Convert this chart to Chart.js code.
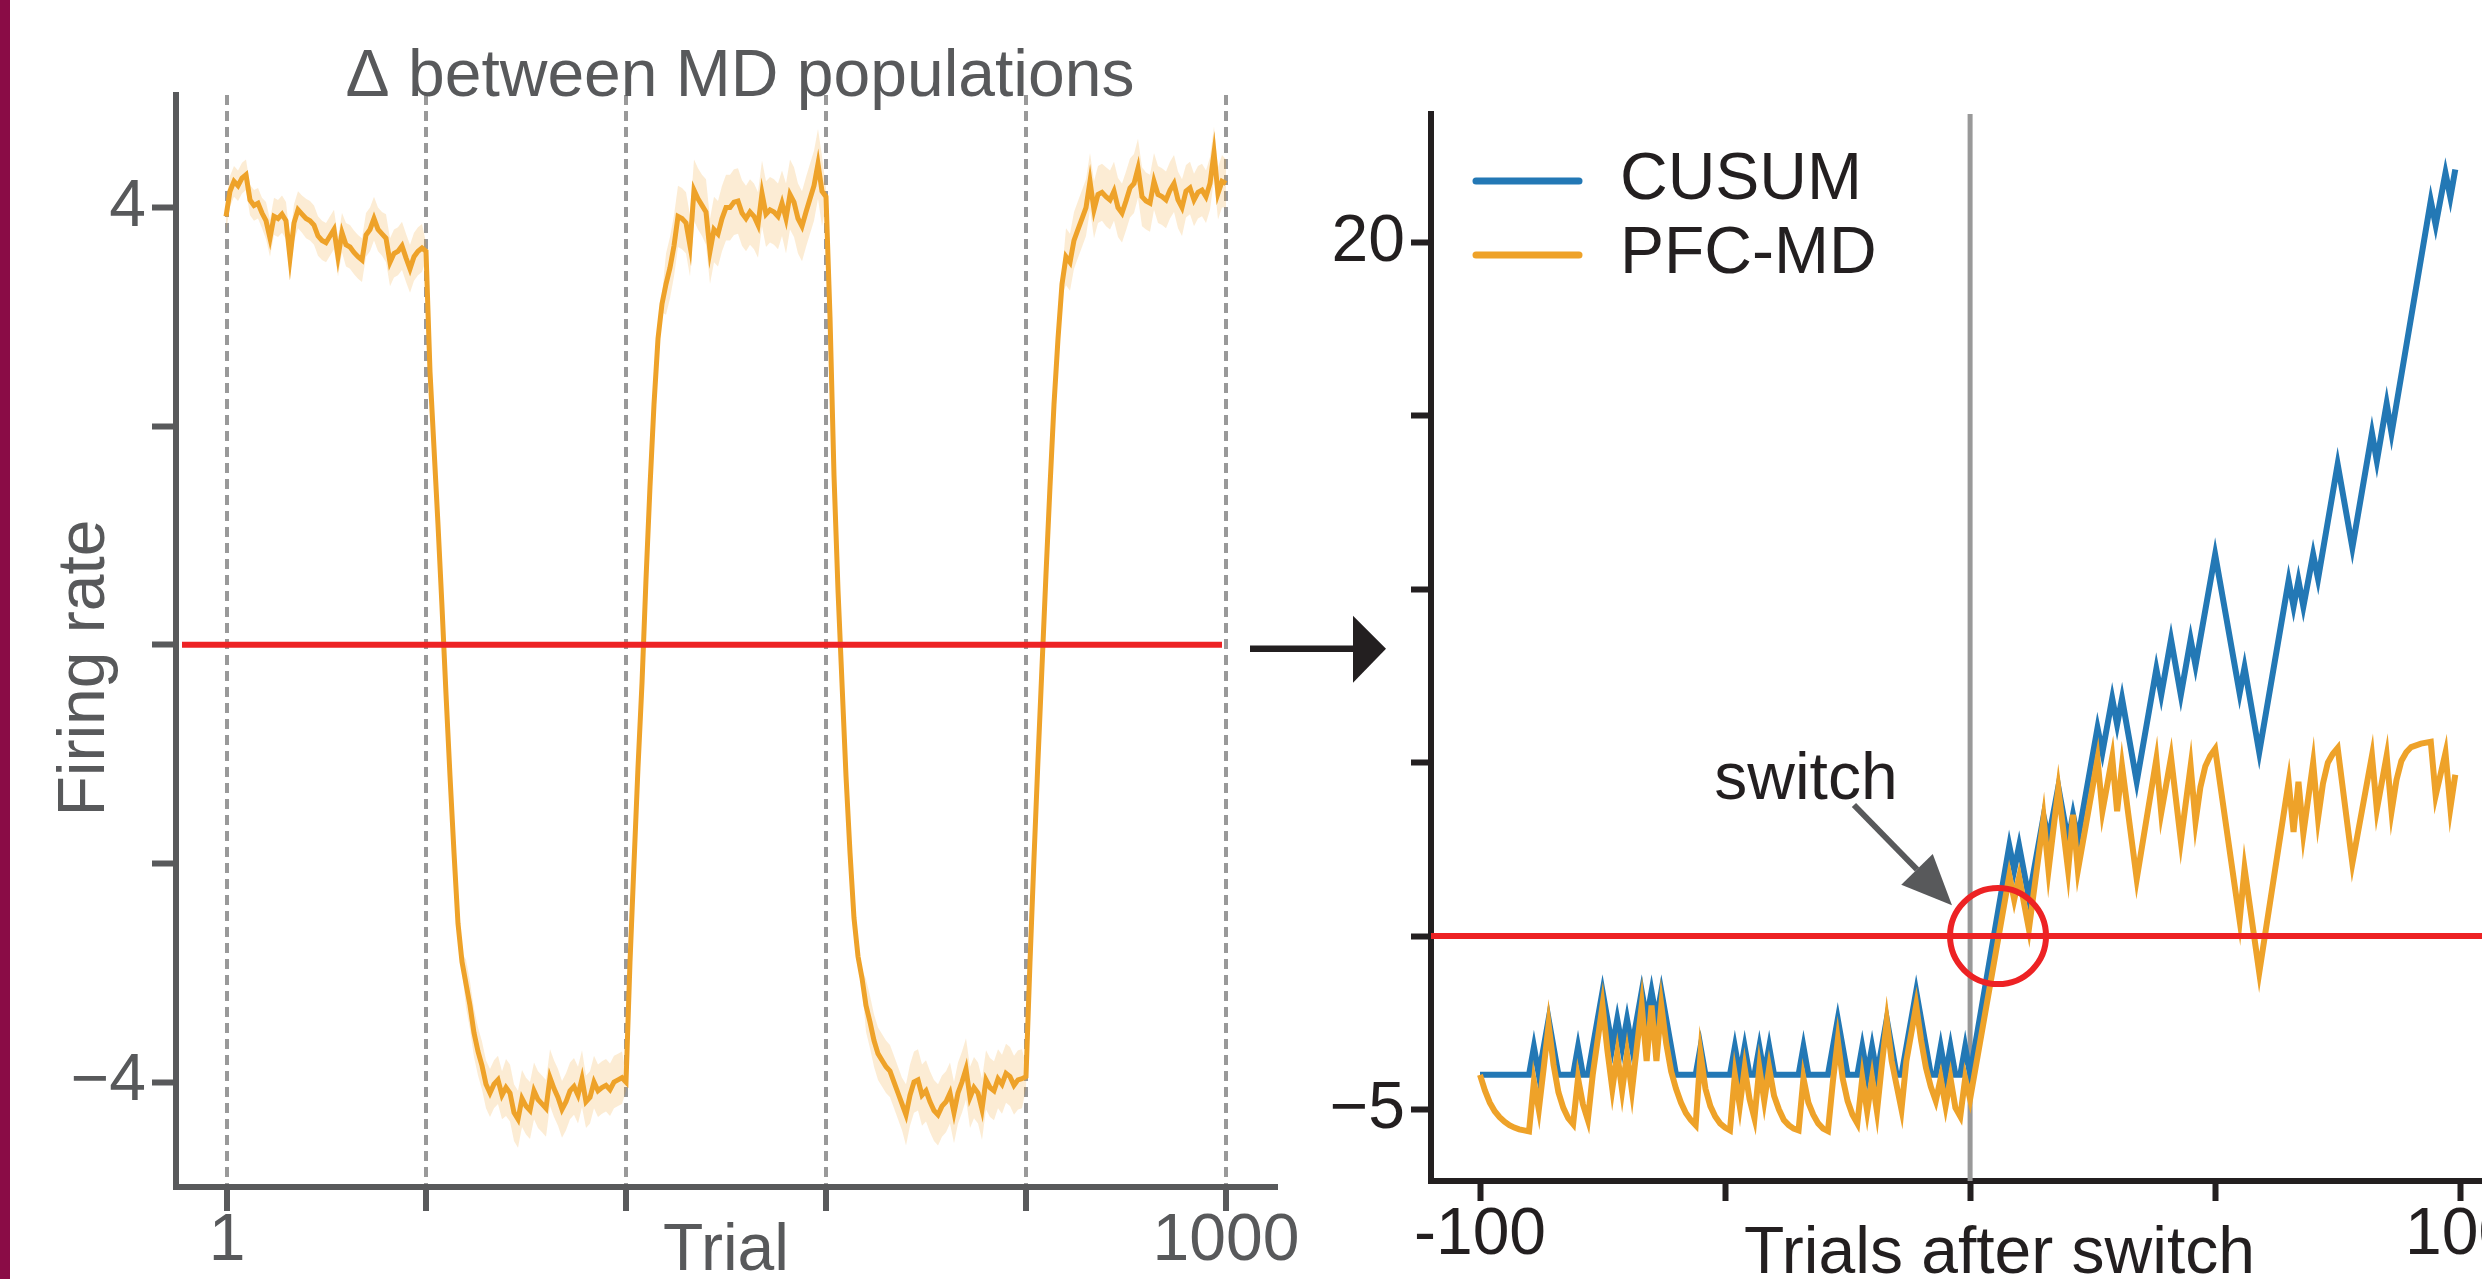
<!DOCTYPE html>
<html>
<head>
<meta charset="utf-8">
<script src="https://cdn.jsdelivr.net/npm/chart.js@4.4.1/dist/chart.umd.min.js"></script>
<style>
  html, body { margin: 0; padding: 0; background: #fff; overflow: hidden; }
  body { width: 2482px; height: 1279px; position: relative; }
  #edge { position: absolute; left: 0; top: 0; width: 10px; height: 1279px; background: #8a0c46; }
  #trialChart { position: absolute; left: 0; top: 0; }
  #switchChart { position: absolute; left: 1300px; top: 0; }
</style>
</head>
<body>
<div id="edge"></div>
<canvas id="switchChart" width="1300" height="1279"></canvas>
<canvas id="trialChart" width="1400" height="1279"></canvas>
<script>
// ---------- left panel: mean firing-rate difference, one value every 4 trials ----------
const trialStep = 4;
const meanBlockA = [3.92, 4.15, 4.24, 4.2, 4.27, 4.3, 4.07, 4.02, 4.04, 3.95,
  3.88, 3.72, 3.92, 3.9, 3.94, 3.88, 3.54, 3.86, 3.98, 3.94,
  3.9, 3.88, 3.84, 3.74, 3.7, 3.68, 3.74, 3.8, 3.55, 3.77,
  3.66, 3.64, 3.59, 3.55, 3.52, 3.75, 3.8, 3.9, 3.8, 3.76,
  3.72, 3.5, 3.58, 3.6, 3.65, 3.54, 3.44, 3.55, 3.6, 3.63];
const meanBlockB = [3.6, 2.5, 1.8, 1.1, 0.35, -0.45, -1.2, -1.9, -2.55, -2.9,
  -3.1, -3.3, -3.55, -3.72, -3.85, -4.02, -4.1, -4.02, -3.98, -4.12,
  -4.05, -4.1, -4.28, -4.34, -4.15, -4.22, -4.26, -4.08, -4.16, -4.2,
  -4.24, -3.96, -4.06, -4.14, -4.25, -4.18, -4.08, -4.04, -4.12, -3.97,
  -4.18, -4.14, -4.0, -4.08, -4.05, -4.03, -4.07, -4.0, -3.98, -3.96];
const meanBlockC = [-4.0, -2.9, -2.0, -1.12, -0.35, 0.6, 1.45, 2.2, 2.8, 3.12,
  3.3, 3.45, 3.65, 3.92, 3.9, 3.86, 3.65, 4.16, 4.08, 4.02,
  3.96, 3.6, 3.8, 3.76, 3.9, 4.0, 4.0, 4.05, 4.06, 3.95,
  3.9, 3.96, 3.92, 3.84, 4.13, 3.94, 3.98, 3.96, 3.92, 4.04,
  3.9, 4.12, 4.05, 3.9, 3.83, 3.96, 4.08, 4.2, 4.4, 4.15];
const meanBlockD = [4.1, 3.0, 1.55, 0.5, -0.35, -1.2, -1.9, -2.5, -2.85, -3.05,
  -3.3, -3.45, -3.62, -3.74, -3.8, -3.86, -3.9, -4.0, -4.1, -4.2,
  -4.3, -4.12, -4.0, -3.98, -4.12, -4.08, -4.18, -4.26, -4.3, -4.22,
  -4.18, -4.1, -4.28, -4.1, -4.0, -3.88, -4.14, -4.05, -4.1, -4.25,
  -3.98, -4.05, -4.08, -3.97, -4.02, -3.92, -3.95, -4.03, -3.98, -3.97];
const meanBlockE = [-3.95, -2.9, -1.95, -1.05, -0.2, 0.65, 1.45, 2.2, 2.8, 3.3,
  3.55, 3.5, 3.7, 3.8, 3.9, 4.0, 4.24, 3.98, 4.12, 4.14,
  4.1, 4.07, 4.15, 4.0, 3.95, 4.06, 4.18, 4.22, 4.36, 4.1,
  4.06, 4.04, 4.24, 4.12, 4.1, 4.07, 4.16, 4.22, 4.07, 4.0,
  4.15, 4.18, 4.07, 4.14, 4.16, 4.1, 4.22, 4.5, 4.13, 4.24,
  4.22];
// half width of the shaded band, one value per 40 trials
const bandHalf = [0.14, 0.17, 0.18, 0.2, 0.22, 0.08, 0.22, 0.26, 0.26, 0.24,
  0.08, 0.28, 0.3, 0.3, 0.32, 0.08, 0.24, 0.28, 0.28, 0.27,
  0.1, 0.26, 0.27, 0.26, 0.24, 0.22];
const trialTicks = [1, 200, 400, 600, 800, 1000];
const trialTickLabels = ['1', '', '', '', '', '1000'];
const rateTicks = [-4, -2, 0, 2, 4];
const rateTickLabels = ['\u22124', '', '', '', '4'];

// ---------- right panel: detection statistics around the switch ----------
const cusumTrials = [-100, -90, -89, -88, -86, -84, -81, -80, -79, -78,
  -75, -73, -72, -71, -70, -69, -67, -66, -65, -64,
  -63, -60, -56, -55, -54, -49, -48, -47, -46, -45,
  -44, -43, -42, -41, -40, -35, -34, -33, -29, -27,
  -25, -23, -22, -21, -20, -19, -17, -15, -14, -11,
  -8, -7, -6, -5, -4, -3, -2, -1, 0,
  8, 9, 10, 12, 15, 16, 18, 20, 21, 22,
  26, 27, 29, 30, 31, 34, 38, 39, 41, 43,
  45, 46, 50, 55, 56, 59, 65, 66, 67, 68,
  70, 71, 75, 78, 82, 83, 85, 86, 94, 95,
  97, 98, 99];
const cusumValues = [-4, -4, -3.2, -4, -2.4, -4, -4, -3.2, -4, -4,
  -1.6, -3.2, -2.4, -3.2, -2.4, -3.2, -1.6, -2.4, -1.6, -2.4,
  -1.6, -4, -4, -3.2, -4, -4, -3.2, -4, -3.2, -4,
  -4, -3.2, -4, -3.2, -4, -4, -3.2, -4, -4, -2.4,
  -4, -4, -3.2, -4, -3.2, -4, -2.4, -4, -4, -1.6,
  -4, -4, -3.2, -4, -3.2, -4, -4, -3.2, -4,
  2.6, 1.9, 2.6, 1.1, 3.45, 2.8, 4.3, 2.75, 3.5, 2.8,
  6.0, 5.3, 6.85, 6.1, 6.85, 4.45, 7.7, 6.95, 8.55, 6.95,
  8.55, 7.8, 11.0, 7.0, 7.75, 5.3, 10.25, 9.5, 10.25, 9.5,
  11.0, 10.3, 13.6, 11.2, 14.5, 13.7, 15.35, 14.5, 21.2, 20.5,
  22.0, 21.3, 22.1];
// PFC-MD, trials -100 .. 0, one value per trial
const pfcPreValues = [-4.0, -4.45, -4.8, -5.05, -5.22, -5.35, -5.45, -5.52, -5.57, -5.6,
  -5.63, -4.2, -5.0, -3.8, -2.55, -3.7, -4.5, -4.95, -5.25, -5.42,
  -4.1, -4.85, -5.3, -4.0, -3.0, -2.0, -3.3, -4.4, -3.4, -4.45,
  -3.4, -4.45, -3.2, -2.0, -3.6, -2.0, -3.6, -2.0, -3.1, -3.9,
  -4.4, -4.8, -5.1, -5.3, -5.45, -3.4, -4.4, -4.9, -5.2, -5.4,
  -5.52, -5.6, -4.0, -4.9, -3.8, -4.7, -5.25, -3.8, -4.75, -3.8,
  -4.6, -5.0, -5.3, -5.45, -5.55, -5.6, -4.1, -4.8, -5.15, -5.4,
  -5.55, -5.62, -4.2, -3.0, -4.1, -4.75, -5.15, -5.4, -4.1, -5.05,
  -4.1, -5.05, -3.7, -2.45, -3.6, -4.3, -5.0, -3.6, -2.8, -2.0,
  -3.0, -3.8, -4.35, -4.75, -4.1, -4.9, -4.1, -4.95, -5.2, -4.1,
  -4.7];
const pfcPostTrials = [8, 9, 10, 12, 15, 16, 18, 20, 21, 22,
  26, 27, 29, 30, 31, 34, 38, 39, 41, 43,
  45, 46, 47, 48, 49, 50, 55, 56, 59, 65,
  66, 67, 68, 70, 71, 72, 73, 74, 75, 78,
  82, 83, 85, 86, 87, 88, 89, 90, 92, 94,
  95, 97, 98, 99];
const pfcPostValues = [1.75, 1.05, 1.7, 0.2, 3.4, 1.9, 4.25, 1.9, 3.5, 1.9,
  5.1, 3.6, 5.15, 3.6, 4.9, 1.65, 5.1, 3.55, 5.15, 2.75,
  4.9, 3.3, 4.3, 4.9, 5.2, 5.4, 0.45, 1.95, -1.05, 4.45,
  3.0, 4.45, 2.95, 5.0, 3.4, 4.4, 5.0, 5.25, 5.42, 2.1,
  5.2, 3.65, 5.2, 3.6, 4.5, 5.05, 5.3, 5.45, 5.55, 5.6,
  4.05, 5.28, 3.7, 4.65];
const afterTicks = [-100, -50, 0, 50, 100];
const afterTickLabels = ['-100', '', '', '', '100'];
const scoreTicks = [-5, 0, 5, 10, 15, 20];
const scoreTickLabels = ['\u22125', '', '', '', '', '20'];
const threshold = 0;
const switchTrial = 0;
const detectTrial = 5.7;

// ---------- styling ----------
const FONT = "'Liberation Sans', Arial, Helvetica, sans-serif";
const grey = '#58595b';
const ink = '#231f20';
const orange = '#eea229';
const blue = '#2378b5';
const red = '#ed2224';
const bigFont = { family: FONT, size: 66, lineHeight: 1 };
Chart.defaults.font.family = FONT;

const meanValues = [].concat(meanBlockA, meanBlockB, meanBlockC, meanBlockD, meanBlockE);
const meanPts = meanValues.map((v, i) => ({ x: i * trialStep, y: v }));
const upperPts = meanPts.map(p => ({ x: p.x, y: p.y + bandHalf[Math.floor(p.x / 40)] }));
const lowerPts = meanPts.map(p => ({ x: p.x, y: p.y - bandHalf[Math.floor(p.x / 40)] }));

const fixedTicks = list => scale => { scale.ticks = list.map(v => ({ value: v })); };

// title, y label and the arrow pointing to the right panel
const trialDecor = {
  id: 'trialDecor',
  afterDraw(chart) {
    const { ctx, chartArea: a, scales: { y } } = chart;
    ctx.save();
    ctx.fillStyle = grey;
    ctx.font = `66px ${FONT}`;
    ctx.textAlign = 'center';
    ctx.textBaseline = 'alphabetic';
    ctx.fillText('\u0394 between MD populations', (a.left + a.right) / 2 + 14, a.top + 1);
    ctx.translate(a.left - 72, (a.top + a.bottom) / 2 + 27);
    ctx.rotate(-Math.PI / 2);
    ctx.fillText('Firing rate', 0, 0);
    ctx.restore();

    const ay = y.getPixelForValue(threshold) + 4;
    ctx.save();
    ctx.strokeStyle = ink;
    ctx.fillStyle = ink;
    ctx.lineWidth = 6.5;
    ctx.beginPath();
    ctx.moveTo(a.right - 26, ay);
    ctx.lineTo(a.right + 80, ay);
    ctx.stroke();
    ctx.beginPath();
    ctx.moveTo(a.right + 77, ay - 33);
    ctx.lineTo(a.right + 110, ay);
    ctx.lineTo(a.right + 77, ay + 34);
    ctx.closePath();
    ctx.fill();
    ctx.restore();
  }
};

new Chart(document.getElementById('trialChart'), {
  type: 'line',
  data: {
    datasets: [
      { label: 'zero', data: [{ x: -44, y: threshold }, { x: 996, y: threshold }],
        borderColor: red, borderWidth: 6, pointRadius: 0 },
      { label: 'mean', data: meanPts, borderColor: orange, borderWidth: 5, pointRadius: 0 },
      { label: 'upper', data: upperPts, borderWidth: 0, pointRadius: 0,
        fill: '+1', backgroundColor: 'rgba(238,162,41,0.2)' },
      { label: 'lower', data: lowerPts, borderWidth: 0, pointRadius: 0, fill: false }
    ]
  },
  options: {
    responsive: false,
    animation: false,
    devicePixelRatio: 1,
    events: [],
    layout: { autoPadding: false, padding: { top: 95, right: 124, left: 0, bottom: 0 } },
    plugins: { legend: { display: false }, tooltip: { enabled: false } },
    scales: {
      x: {
        type: 'linear', min: -50, max: 1050,
        afterBuildTicks: fixedTicks(trialTicks),
        afterFit: s => { s.height = 92; },
        ticks: { callback: (v, i) => trialTickLabels[i], color: grey, font: bigFont,
          padding: -2, maxRotation: 0, autoSkip: false },
        grid: { color: '#999999', lineWidth: 4, drawTicks: true, tickLength: 24,
          tickWidth: 6, tickColor: grey },
        border: { color: grey, width: 6, dash: [10, 6] },
        title: { display: true, text: 'Trial', color: grey, font: bigFont,
          padding: { top: 0, bottom: -6 } }
      },
      y: {
        type: 'linear', min: -4.96, max: 5.03,
        afterBuildTicks: fixedTicks(rateTicks),
        afterFit: s => { s.width = 176; },
        ticks: { callback: (v, i) => rateTickLabels[i], color: grey, font: bigFont, padding: 6 },
        grid: { drawOnChartArea: false, drawTicks: true, tickLength: 24, tickWidth: 6, tickColor: grey },
        border: { color: grey, width: 6 }
      }
    }
  },
  plugins: [trialDecor]
});

// legend and the "switch" note
const switchDecor = {
  id: 'switchDecor',
  afterDraw(chart) {
    const { ctx, chartArea: a, scales: { x, y } } = chart;
    ctx.save();
    ctx.font = `66px ${FONT}`;
    ctx.textAlign = 'left';
    ctx.textBaseline = 'alphabetic';
    chart.data.datasets.filter(d => d.inKey).sort((p, q) => p.inKey - q.inKey).forEach((d, i) => {
      const ly = a.top + 67 + i * 74;
      ctx.strokeStyle = d.borderColor;
      ctx.lineWidth = 7;
      ctx.lineCap = 'round';
      ctx.beginPath();
      ctx.moveTo(a.left + 45, ly);
      ctx.lineTo(a.left + 148, ly);
      ctx.stroke();
      ctx.fillStyle = ink;
      ctx.fillText(d.label, a.left + 189, ly + 18);
    });

    ctx.textAlign = 'center';
    ctx.fillStyle = ink;
    ctx.fillText('switch', x.getPixelForValue(-33.5), y.getPixelForValue(3.95));

    const x0 = x.getPixelForValue(-23.7), y0 = y.getPixelForValue(3.78);
    const x1 = x.getPixelForValue(-3.7), y1 = y.getPixelForValue(0.89);
    const ang = Math.atan2(y1 - y0, x1 - x0);
    const headLen = 50, headHalf = 22;
    const bx = x1 - headLen * Math.cos(ang), by = y1 - headLen * Math.sin(ang);
    ctx.strokeStyle = grey;
    ctx.fillStyle = grey;
    ctx.lineWidth = 6;
    ctx.lineCap = 'butt';
    ctx.beginPath();
    ctx.moveTo(x0, y0);
    ctx.lineTo(bx, by);
    ctx.stroke();
    ctx.beginPath();
    ctx.moveTo(x1, y1);
    ctx.lineTo(bx + headHalf * Math.sin(ang), by - headHalf * Math.cos(ang));
    ctx.lineTo(bx - headHalf * Math.sin(ang), by + headHalf * Math.cos(ang));
    ctx.closePath();
    ctx.fill();
    ctx.restore();
  }
};

const cusumPts = cusumTrials.map((t, i) => ({ x: t, y: cusumValues[i] }));
const pfcPts = pfcPreValues.map((v, i) => ({ x: i - 100, y: v }))
  .concat(pfcPostTrials.map((t, i) => ({ x: t, y: pfcPostValues[i] })));
const yMin = -7.06, yMax = 23.7;

new Chart(document.getElementById('switchChart'), {
  type: 'line',
  data: {
    datasets: [
      { label: 'detect', data: [{ x: detectTrial, y: threshold }], showLine: false,
        pointRadius: 48, pointBorderWidth: 6, pointBorderColor: red,
        pointBackgroundColor: 'rgba(0,0,0,0)' },
      { label: 'threshold', data: [{ x: -110, y: threshold }, { x: 122, y: threshold }],
        borderColor: red, borderWidth: 6, pointRadius: 0 },
      { label: 'PFC-MD', inKey: 2, data: pfcPts, borderColor: orange, borderWidth: 6, pointRadius: 0 },
      { label: 'CUSUM', inKey: 1, data: cusumPts, borderColor: blue, borderWidth: 6, pointRadius: 0 },
      { label: 'switch', data: [{ x: switchTrial, y: yMin }, { x: switchTrial, y: yMax }],
        borderColor: '#999999', borderWidth: 5, pointRadius: 0 }
    ]
  },
  options: {
    responsive: false,
    animation: false,
    devicePixelRatio: 1,
    events: [],
    // the big marker circle would otherwise widen the right padding
    layout: { autoPadding: false, padding: { top: 114, right: 32, left: 0, bottom: 0 } },
    plugins: { legend: { display: false }, tooltip: { enabled: false } },
    scales: {
      x: {
        type: 'linear', min: -110, max: 122,
        afterBuildTicks: fixedTicks(afterTicks),
        afterFit: s => { s.height = 98; },
        ticks: { callback: (v, i) => afterTickLabels[i], color: ink, font: bigFont,
          padding: 2, maxRotation: 0, autoSkip: false },
        grid: { drawOnChartArea: false, drawTicks: true, tickLength: 20, tickWidth: 6, tickColor: ink },
        border: { color: ink, width: 6 },
        title: { display: true, text: 'Trials after switch', color: ink, font: bigFont,
          padding: { top: 0, bottom: -9 } }
      },
      y: {
        type: 'linear', min: yMin, max: yMax,
        afterBuildTicks: fixedTicks(scoreTicks),
        afterFit: s => { s.width = 131; },
        ticks: { callback: (v, i) => scoreTickLabels[i], color: ink, font: bigFont, padding: 6 },
        grid: { drawOnChartArea: false, drawTicks: true, tickLength: 20, tickWidth: 6, tickColor: ink },
        border: { color: ink, width: 6 }
      }
    }
  },
  plugins: [switchDecor]
});
</script>
</body>
</html>
